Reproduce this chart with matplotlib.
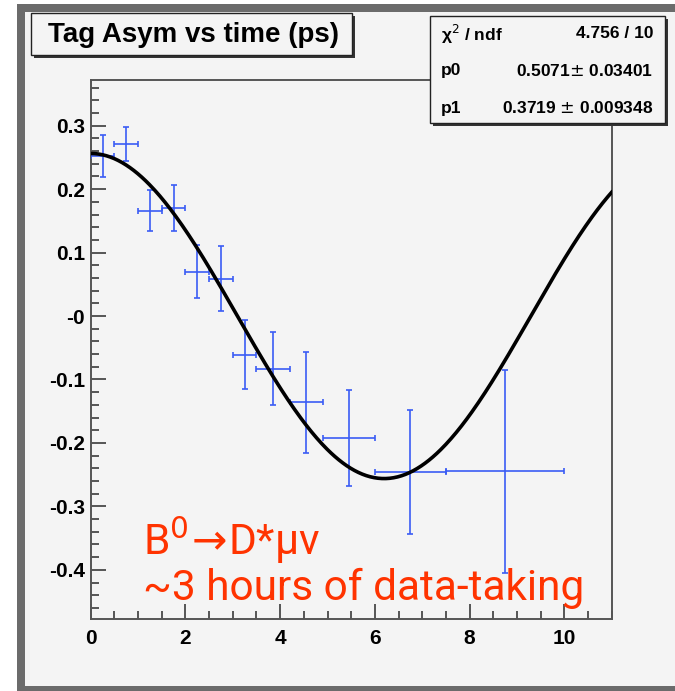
import numpy as np
import matplotlib.pyplot as plt
from matplotlib.patches import Rectangle
from matplotlib.ticker import MultipleLocator, FixedLocator, FixedFormatter

# tagged asymmetry per time bin (ps)
bin_lo = [0.0, 0.5, 1.0, 1.5, 2.0, 2.5, 3.0, 3.5, 4.2, 4.9, 6.0, 7.5]
bin_hi = [0.5, 1.0, 1.5, 2.0, 2.5, 3.0, 3.5, 4.2, 4.9, 6.0, 7.5, 10.0]
asym = [0.252, 0.271, 0.166, 0.170, 0.070, 0.059, -0.061, -0.083, -0.136, -0.192, -0.246, -0.245]
asym_err = [0.033, 0.027, 0.032, 0.036, 0.042, 0.051, 0.054, 0.058, 0.080, 0.076, 0.098, 0.160]

# fit result: A(t) = (1 - 2*p1) * cos(p0 * t)
p0, p0_err = 0.5071, 0.03401
p1, p1_err = 0.3719, 0.009348
chi2, ndf = 4.756, 10

ytick_vals = [0.3, 0.2, 0.1, 0.0, -0.1, -0.2, -0.3, -0.4]
ytick_text = ['0.3', '0.2', '0.1', '-0', '-0.1', '-0.2', '-0.3', '-0.4']

W, H = 675, 691
PAD = '#f4f4f4'
EDGE = '#6b6b6b'
bold = ['Liberation Sans', 'DejaVu Sans']


def fx(x):
    return x / W


def fy(y):
    return 1 - y / H


fig = plt.figure(figsize=(W / 100, H / 100), dpi=100)
fig.patch.set_facecolor('white')

# canvas frame
fig.add_artist(Rectangle((fx(17), fy(691)), fx(675 - 17), fy(4) - fy(691),
                         transform=fig.transFigure, facecolor=EDGE, edgecolor='none', zorder=-10))
fig.add_artist(Rectangle((fx(25), fy(686)), fx(675 - 25), fy(12) - fy(686),
                         transform=fig.transFigure, facecolor=PAD, edgecolor='none', zorder=-9))

ax = fig.add_axes([fx(90.7), fy(619.3), fx(611.7 - 90.7), fy(80) - fy(619.3)])
ax.set_facecolor(PAD)

t_mid = [(a + b) / 2 for a, b in zip(bin_lo, bin_hi)]
t_half = [(b - a) / 2 for a, b in zip(bin_lo, bin_hi)]
ax.errorbar(t_mid, asym, xerr=t_half, yerr=asym_err, fmt='none',
            ecolor='#3a5cf5', elinewidth=1.2, capsize=2.2, capthick=1.2, zorder=3)

t = np.linspace(0, 11, 400)
ax.plot(t, (1 - 2 * p1) * np.cos(p0 * t), color='black', lw=2.6, zorder=4)

ax.set_xlim(0, 11)
ax.set_ylim(-0.478, 0.372)

for side in ['left', 'bottom', 'top', 'right']:
    ax.spines[side].set_color('#555555')
    ax.spines[side].set_linewidth(1.4)

ax.xaxis.set_major_locator(MultipleLocator(2))
ax.xaxis.set_minor_locator(MultipleLocator(0.5))
ax.yaxis.set_major_locator(FixedLocator(ytick_vals))
ax.yaxis.set_major_formatter(FixedFormatter(ytick_text))
ax.yaxis.set_minor_locator(MultipleLocator(0.02))
ax.tick_params(which='both', direction='in', color='#555555', width=1.4,
               top=False, right=False)
ax.tick_params(which='major', length=11, pad=4)
ax.tick_params(which='minor', length=5.5)
ax.tick_params(axis='x', which='major', pad=7)
for lab in ax.get_xticklabels() + ax.get_yticklabels():
    lab.set_family(bold)
    lab.set_fontweight('bold')
    lab.set_fontsize(15)

# title box
fig.add_artist(Rectangle((fx(34), fy(58)), fx(321), fy(16) - fy(58), transform=fig.transFigure,
                         facecolor='#333333', edgecolor='none', zorder=5))
fig.add_artist(Rectangle((fx(31), fy(55)), fx(321), fy(13) - fy(55), transform=fig.transFigure,
                         facecolor=PAD, edgecolor='#222222', lw=1.0, zorder=6))
fig.text(fx(193), fy(35), 'Tag Asym vs time (ps)', family=bold, fontweight='bold',
         fontsize=20, ha='center', va='center', zorder=7)

# fit statistics box
fig.add_artist(Rectangle((fx(433), fy(126)), fx(235), fy(19) - fy(126), transform=fig.transFigure,
                         facecolor='#333333', edgecolor='none', zorder=5))
fig.add_artist(Rectangle((fx(430), fy(123)), fx(235), fy(16) - fy(123), transform=fig.transFigure,
                         facecolor=PAD, edgecolor='#222222', lw=1.0, zorder=6))
rows = [('χ$^2$ / ndf', '%.3f / %d' % (chi2, ndf)),
        ('p0', '%.4f$\\pm$ %.5f' % (p0, p0_err)),
        ('p1', '%.4f $\\pm$ %.6f' % (p1, p1_err))]
for i, (name, val) in enumerate(rows):
    y = fy(34 + 37 * i)
    fig.text(fx(441), y, name, family=bold, fontweight='bold', fontsize=12.5,
             ha='left', va='center', zorder=7)
    fig.text(fx(653), y, val, family=bold, fontweight='bold', fontsize=12.5,
             ha='right', va='center', zorder=7)

# decay channel note
note_font = ['Roboto', 'DejaVu Sans']
ax.text(1.1, -0.377, 'B$^0\\!\\rightarrow\\!$D*μν', color='#ff3300', family=note_font,
        fontsize=30.5, ha='left', va='baseline', zorder=8)
ax.text(1.1, -0.448, '~3 hours of data-taking', color='#ff3300', family=note_font,
        fontsize=30.5, ha='left', va='baseline', zorder=8)

fig.savefig('out.png', dpi=100, facecolor=fig.get_facecolor())
